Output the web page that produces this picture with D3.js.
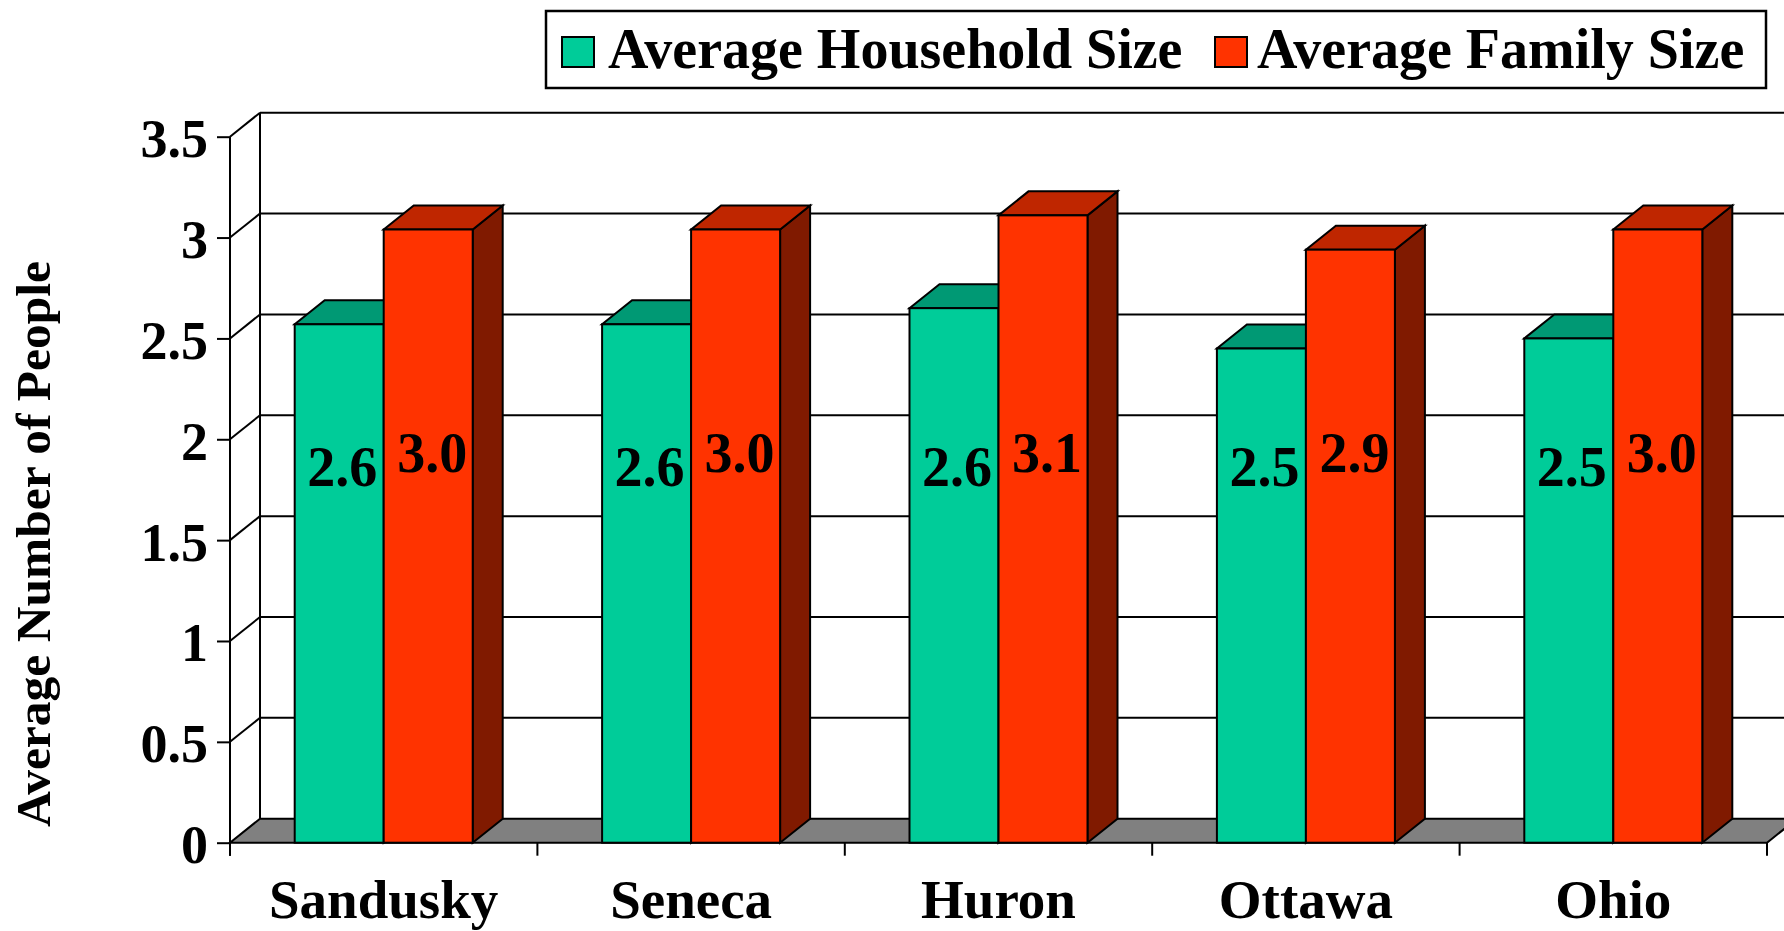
<!DOCTYPE html>
<html>
<head>
<meta charset="utf-8">
<script src="https://cdn.jsdelivr.net/npm/d3@7"></script>
<style>
  html, body { margin: 0; padding: 0; background: #ffffff; }
  svg { display: block; }
  text { font-family: "Liberation Serif", "Times New Roman", serif; font-weight: bold; fill: #000; }
</style>
</head>
<body>
<svg id="chart" width="1784" height="931"></svg>
<script>
// ---- data ----
const categories = ["Sandusky", "Seneca", "Huron", "Ottawa", "Ohio"];
const seriesNames = ["Average Household Size", "Average Family Size"];
const household = [2.57, 2.57, 2.65, 2.45, 2.50];
const family = [3.04, 3.04, 3.11, 2.94, 3.04];
const householdLabels = ["2.6", "2.6", "2.6", "2.5", "2.5"];
const familyLabels = ["3.0", "3.0", "3.1", "2.9", "3.0"];
const yTicks = [0, 0.5, 1, 1.5, 2, 2.5, 3, 3.5];
const yTickLabels = ["0", "0.5", "1", "1.5", "2", "2.5", "3", "3.5"];
const yTitle = "Average Number of People";

// ---- styles ----
const colors = {
  hh: { front: "#00CC99", top: "#009974", side: "#00664D" },
  fam: { front: "#FF3300", top: "#BF2600", side: "#801A00" }
};

// ---- layout ----
const W = 1784, H = 931;
const plotLeft = 230, plotRight = 1767;
const yZero = 842.7, yTopPx = 136.7;
const DX = 30, DY = 24;
const barW = 89;

const svg = d3.select("#chart");

const y = d3.scaleLinear().domain([0, 3.5]).range([yZero, yTopPx]);
const x = d3.scaleBand().domain(categories).range([plotLeft, plotRight]);
const xs = d3.scaleBand().domain(seriesNames).range([0, barW * 2]);
const groupOffset = (x.bandwidth() - barW * 2) / 2;

const lineStyle = sel => sel.attr("stroke", "#000").attr("stroke-width", 2).attr("fill", "none");

// back wall left edge
const walls = svg.append("g");
walls.append("line").attr("x1", plotLeft + DX).attr("x2", plotLeft + DX)
  .attr("y1", y(3.5) - DY).attr("y2", y(0) - DY).call(lineStyle);

// gridlines (diagonal on side wall + horizontal on back wall)
yTicks.filter(t => t > 0).forEach(t => {
  walls.append("line").attr("x1", plotLeft).attr("y1", y(t))
    .attr("x2", plotLeft + DX).attr("y2", y(t) - DY).call(lineStyle);
  walls.append("line").attr("x1", plotLeft + DX).attr("y1", y(t) - DY)
    .attr("x2", plotRight + DX).attr("y2", y(t) - DY).call(lineStyle);
});

// floor
svg.append("polygon")
  .attr("points", [[plotLeft, y(0)], [plotRight, y(0)], [plotRight + DX, y(0) - DY], [plotLeft + DX, y(0) - DY]].map(p => p.join(",")).join(" "))
  .attr("fill", "#808080").attr("stroke", "#000").attr("stroke-width", 2).attr("stroke-linejoin", "miter");

// front y-axis line
walls.append("line").attr("x1", plotLeft).attr("x2", plotLeft)
  .attr("y1", y(3.5)).attr("y2", y(0) + 13).call(lineStyle);

// y-axis ticks and labels via d3 axis
const yAxis = d3.axisLeft(y).tickValues(yTicks)
  .tickFormat((d, i) => yTickLabels[i]).tickSize(13).tickSizeOuter(0).tickPadding(9);
const yg = svg.append("g").attr("transform", `translate(${plotLeft},0)`).call(yAxis);
yg.select(".domain").remove();
yg.selectAll(".tick line").attr("stroke", "#000").attr("stroke-width", 2);
yg.selectAll(".tick text").attr("font-size", 54).attr("font-family", "Liberation Serif, Times New Roman, serif")
  .attr("font-weight", "bold").attr("dy", "0.37em").attr("fill", "#000");

// x-axis ticks at band boundaries
const bounds = categories.map(c => x(c)).concat([plotRight]);
svg.append("g").selectAll("line").data(bounds).join("line")
  .attr("x1", d => d).attr("x2", d => d).attr("y1", y(0)).attr("y2", y(0) + 13).call(lineStyle);

// x category labels
svg.append("g").selectAll("text").data(categories).join("text")
  .attr("x", d => x(d) + x.bandwidth() / 2)
  .attr("y", 918)
  .attr("text-anchor", "middle")
  .attr("font-size", 55)
  .text(d => d);

// bars
function bar3d(g, left, v, c) {
  const top = y(v), right = left + barW;
  g.append("polygon")
    .attr("points", [[right, top], [right + DX, top - DY], [right + DX, y(0) - DY], [right, y(0)]].map(p => p.join(",")).join(" "))
    .attr("fill", c.side).attr("stroke", "#000").attr("stroke-width", 2).attr("stroke-linejoin", "miter");
  g.append("polygon")
    .attr("points", [[left, top], [right, top], [right + DX, top - DY], [left + DX, top - DY]].map(p => p.join(",")).join(" "))
    .attr("fill", c.top).attr("stroke", "#000").attr("stroke-width", 2).attr("stroke-linejoin", "miter");
  g.append("rect")
    .attr("x", left).attr("y", top).attr("width", barW).attr("height", y(0) - top)
    .attr("fill", c.front).attr("stroke", "#000").attr("stroke-width", 2);
}

const barsG = svg.append("g");
categories.forEach((cat, i) => {
  const g = barsG.append("g");
  const lh = x(cat) + groupOffset + xs(seriesNames[0]);
  const lf = x(cat) + groupOffset + xs(seriesNames[1]);
  bar3d(g, lh, household[i], colors.hh);
  bar3d(g, lf, family[i], colors.fam);
});

// value labels
const labelLevel = 1.77;
categories.forEach((cat, i) => {
  const lh = x(cat) + groupOffset + xs(seriesNames[0]);
  const lf = x(cat) + groupOffset + xs(seriesNames[1]);
  svg.append("text").attr("x", lh + barW / 2 + 3).attr("y", y(labelLevel))
    .attr("text-anchor", "middle").attr("font-size", 56).text(householdLabels[i]);
  svg.append("text").attr("x", lf + barW / 2 + 4).attr("y", y(labelLevel + 0.07))
    .attr("text-anchor", "middle").attr("font-size", 56).text(familyLabels[i]);
});

// y-axis title
svg.append("text")
  .attr("transform", "translate(50,544) rotate(-90)")
  .attr("text-anchor", "middle")
  .attr("font-size", 49.5)
  .text(yTitle);

// legend
const lg = svg.append("g");
lg.append("rect").attr("x", 546).attr("y", 11).attr("width", 1220).attr("height", 77)
  .attr("fill", "#fff").attr("stroke", "#000").attr("stroke-width", 2.5);
const legendItems = [
  { name: seriesNames[0], color: colors.hh.front, sx: 562, tx: 608 },
  { name: seriesNames[1], color: colors.fam.front, sx: 1215, tx: 1257 }
];
legendItems.forEach(it => {
  lg.append("rect").attr("x", it.sx).attr("y", 37).attr("width", 32).attr("height", 30)
    .attr("fill", it.color).attr("stroke", "#000").attr("stroke-width", 2);
  lg.append("text").attr("x", it.tx).attr("y", 68).attr("font-size", 56).text(it.name);
});
</script>
</body>
</html>
